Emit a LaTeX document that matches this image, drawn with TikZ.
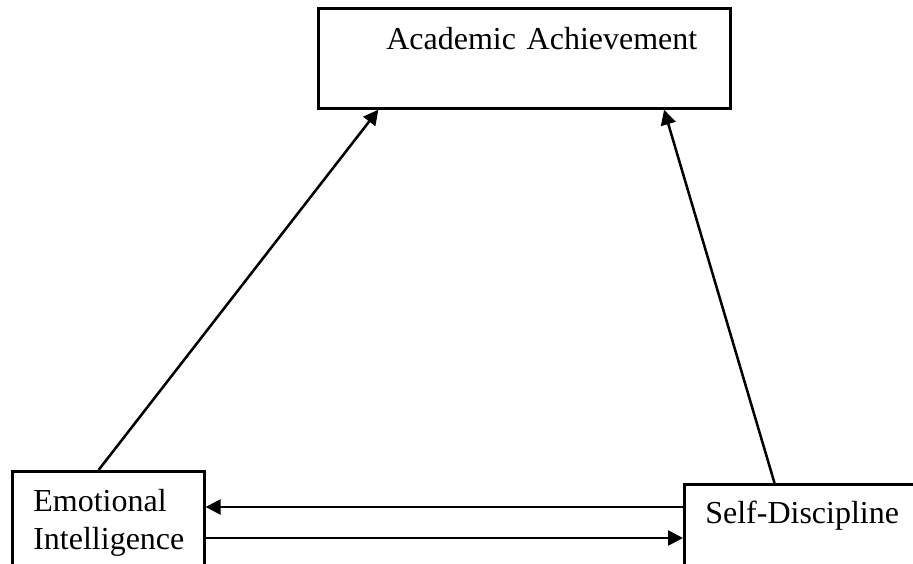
\documentclass[tikz,border=0pt]{standalone}
\usepackage{fontspec}
\setmainfont{Liberation Serif}
\usetikzlibrary{arrows.meta,positioning,calc}

\begin{document}
\begin{tikzpicture}[x=0.375pt,y=-0.375pt,
    vbox/.style={draw,line width=1pt,anchor=north west,inner ysep=0pt,
      align=left,font=\fontsize{12}{14.25}\selectfont},
    link/.style={line width=0.95pt,-{Triangle[length=5.6pt,width=5.6pt]}},
  ]
  \clip (0,0) rectangle (913,563);

  \node[vbox,inner xsep=0pt,text width=154.5pt,text height=15.4pt,text depth=22.1pt]
    (aa) at (317,7) {\hspace*{25.5pt}Academic Achievement};
  \node[vbox,inner xsep=7.875pt,text width=56.25pt,text height=15pt,text depth=34pt]
    (ei) at (11,470) {Emotional\\Intelligence};
  \node[vbox,inner xsep=7.875pt,text width=76pt,text height=14.6pt,text depth=34pt]
    (sd) at (683,483) {Self-Discipline};

  \draw[link] ($(ei.north west)!0.45!(ei.north east)$) -- ($(aa.south west)!0.148!(aa.south east)$);
  \draw[link] ($(sd.north west)!0.37!(sd.north east)$) -- ($(aa.south west)!0.837!(aa.south east)$);

  \path (sd.north west) ++(0,24) coordinate (u1);
  \path (ei.north east) ++(0,68) coordinate (u2);
  \draw[link] (u1) -- (u1 -| ei.east);
  \draw[link] (u2) -- (u2 -| sd.west);
\end{tikzpicture}
\end{document}
